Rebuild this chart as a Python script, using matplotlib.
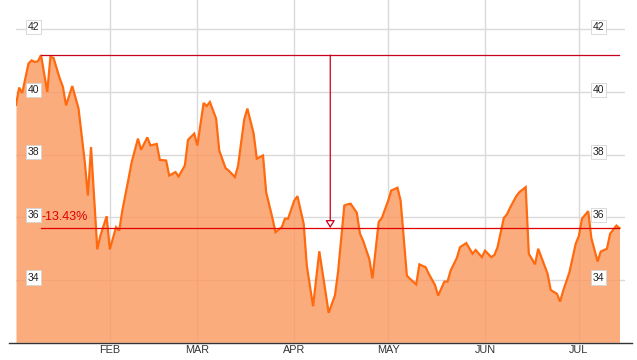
import matplotlib
matplotlib.use("Agg")
import matplotlib.pyplot as plt
from matplotlib.lines import Line2D
import pandas as pd

plt.rcParams['font.family'] = ['Liberation Sans', 'DejaVu Sans']

# ---------------- data ----------------
dates = [
    "2013-01-02", "2013-01-03", "2013-01-04", "2013-01-06", "2013-01-07", "2013-01-08",
    "2013-01-09", "2013-01-10", "2013-01-12", "2013-01-13", "2013-01-14", "2013-01-16",
    "2013-01-17", "2013-01-18", "2013-01-20", "2013-01-22", "2013-01-24", "2013-01-25",
    "2013-01-26", "2013-01-28", "2013-01-29", "2013-01-31",
    "2013-02-01", "2013-02-03", "2013-02-04", "2013-02-05", "2013-02-07", "2013-02-08",
    "2013-02-10", "2013-02-11", "2013-02-13", "2013-02-14", "2013-02-16", "2013-02-17",
    "2013-02-19", "2013-02-20", "2013-02-22", "2013-02-23", "2013-02-25", "2013-02-26",
    "2013-02-28",
    "2013-03-01", "2013-03-03", "2013-03-04", "2013-03-05", "2013-03-07", "2013-03-08",
    "2013-03-10", "2013-03-11", "2013-03-13", "2013-03-14", "2013-03-16", "2013-03-17",
    "2013-03-19", "2013-03-20", "2013-03-22", "2013-03-23", "2013-03-25", "2013-03-26",
    "2013-03-28", "2013-03-29", "2013-03-30",
    "2013-04-01", "2013-04-02", "2013-04-04", "2013-04-05", "2013-04-07", "2013-04-09",
    "2013-04-11", "2013-04-12", "2013-04-14", "2013-04-15", "2013-04-17", "2013-04-18",
    "2013-04-19", "2013-04-21", "2013-04-22", "2013-04-23", "2013-04-25", "2013-04-26",
    "2013-04-28", "2013-04-29",
    "2013-05-01", "2013-05-02", "2013-05-04", "2013-05-05", "2013-05-07", "2013-05-08",
    "2013-05-10", "2013-05-11", "2013-05-13", "2013-05-14", "2013-05-16", "2013-05-17",
    "2013-05-19", "2013-05-20", "2013-05-21", "2013-05-23", "2013-05-24", "2013-05-26",
    "2013-05-28", "2013-05-29", "2013-05-31",
    "2013-06-01", "2013-06-03", "2013-06-04", "2013-06-05", "2013-06-07", "2013-06-08",
    "2013-06-09", "2013-06-11", "2013-06-12", "2013-06-14", "2013-06-15", "2013-06-17",
    "2013-06-18", "2013-06-19", "2013-06-21", "2013-06-22", "2013-06-24", "2013-06-25",
    "2013-06-26", "2013-06-28", "2013-06-30",
    "2013-07-01", "2013-07-02", "2013-07-04", "2013-07-05", "2013-07-07", "2013-07-08",
    "2013-07-10", "2013-07-11", "2013-07-13", "2013-07-14",
]
prices = [
    39.59, 40.14, 39.97, 40.91, 41.01, 40.96,
    40.98, 41.18, 40.00, 41.12, 41.09, 40.43,
    40.16, 39.57, 40.19, 39.47, 37.76, 36.69,
    38.24, 34.97, 35.41, 36.03,
    34.97, 35.68, 35.57, 36.21, 37.23, 37.76,
    38.51, 38.15, 38.55, 38.29, 38.34, 37.83,
    37.81, 37.33, 37.44, 37.30, 37.65, 38.47,
    38.67,
    38.29, 39.65, 39.55, 39.68, 39.15, 38.13,
    37.57, 37.49, 37.28, 37.63, 39.13, 39.47,
    38.67, 37.87, 37.97, 36.80, 35.97, 35.52,
    35.68, 35.95, 35.95,
    36.53, 36.67, 35.79, 34.45, 33.15, 34.91,
    33.60, 32.94, 33.50, 34.25, 36.37, 36.41,
    36.43, 36.14, 35.47, 35.25, 34.66, 34.04,
    35.85, 35.97,
    36.52, 36.85, 36.94, 36.53, 34.13, 34.03,
    33.85, 34.49, 34.40, 34.19, 33.83, 33.49,
    33.94, 33.94, 34.29, 34.70, 35.04, 35.17,
    34.83, 34.95, 34.72,
    34.93, 34.72, 34.79, 35.04, 35.97, 36.09,
    36.30, 36.67, 36.80, 36.96, 34.83, 34.49,
    34.99, 34.72, 34.19, 33.67, 33.55, 33.30,
    33.65, 34.24, 35.15,
    35.39, 35.95, 36.19, 35.33, 34.58, 34.90,
    34.99, 35.47, 35.73, 35.65,
]
month_ticks = ["2013-02-01", "2013-03-01", "2013-04-01", "2013-05-01", "2013-06-01", "2013-07-01"]
month_labels = ["FEB", "MAR", "APR", "MAY", "JUN", "JUL"]
y_ticks = [34, 36, 38, 40, 42]

# ---------------- styling ----------------
LINE_C = "#FF6A0E"
FILL_C = "#FB975D"
GRID_C = "#DADADA"
RED_TOP = "#C8001E"
RED_LOW = "#E00000"

x = pd.to_datetime(dates)
y = pd.Series(prices)
xt = pd.to_datetime(month_ticks)

fig = plt.figure(figsize=(6.37, 3.6), dpi=100)
W, H = 637, 360
ax = fig.add_axes([16 / W, 1 - 342.3 / H, 609 / W, 342.3 / H])

y_bottom = 32.0
ax.set_ylim(y_bottom, 42.94)
ax.set_xlim(x[0], x[0] + pd.Timedelta(days=194.76))

# grid below the (slightly translucent) fill
for yt in y_ticks:
    ax.axhline(yt, color=GRID_C, lw=1.0, zorder=0.5)
for d in xt:
    ax.axvline(d, color=GRID_C, lw=1.0, zorder=0.5)

ax.fill_between(x, prices, y_bottom, color=FILL_C, alpha=0.8, lw=0, zorder=1)
ax.plot(x, prices, color=LINE_C, lw=1.6, zorder=2, solid_joinstyle='miter')

# drawdown annotation
imax = int(y.idxmax())
vmax = prices[imax]
vlast = prices[-1]
dmax = x[imax]
dlast = x[-1]
pct = (vlast / vmax - 1) * 100
ax.plot([dmax, dlast], [vmax, vmax], color=RED_TOP, lw=0.9, zorder=3)
ax.plot([dmax, dlast], [vlast, vlast], color=RED_LOW, lw=0.9, zorder=3)
dmid = dmax + (dlast - dmax) / 2
ax.annotate("", xy=(dmid, vlast), xytext=(dmid, vmax),
            arrowprops=dict(arrowstyle="-|>,head_length=0.45,head_width=0.28",
                            fc="white", ec=RED_TOP, lw=0.9, shrinkA=0, shrinkB=0),
            zorder=4)
ax.annotate(f"{pct:.2f}%", xy=(dmax, vlast), xytext=(0.5, 3.5), textcoords="offset points",
            ha="left", va="bottom", color=RED_LOW, fontsize=9, zorder=5)

# y labels in boxes on both sides
box = dict(boxstyle="square,pad=0.2", fc="white", ec="#D4D4D4", lw=0.6)
for yt in y_ticks:
    ax.text(0.0287, yt + 0.07, f"{yt}", transform=ax.get_yaxis_transform(),
            ha="center", va="center", fontsize=7.5, color="#222222", bbox=box, zorder=6)
    ax.text(0.9565, yt + 0.07, f"{yt}", transform=ax.get_yaxis_transform(),
            ha="center", va="center", fontsize=7.5, color="#222222", bbox=box, zorder=6)

ax.set_yticks([])
ax.set_xticks(xt)
ax.set_xticklabels(month_labels, fontsize=7.8, color="#333333")
ax.tick_params(axis="x", length=0, pad=2)
for s in ax.spines.values():
    s.set_visible(False)
ax.patch.set_alpha(0)

fig.add_artist(Line2D([9 / W, 632 / W], [1 - 342.5 / H] * 2, color="#333333", lw=1.0))

fig.savefig("out.png", dpi=100)
